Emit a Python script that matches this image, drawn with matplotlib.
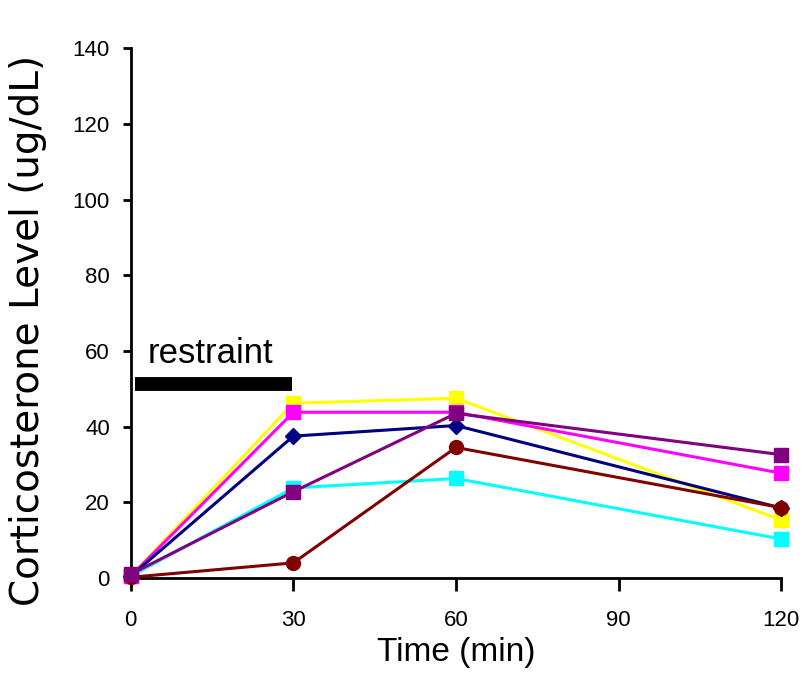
import matplotlib
matplotlib.use("Agg")
import matplotlib.pyplot as plt

plt.rcParams['font.family'] = ['Liberation Sans Narrow', 'Liberation Sans', 'DejaVu Sans']

# time points (min)
time = [0, 30, 60, 120]

# corticosterone per animal (ug/dL)
yellow = [0.5, 46.2, 47.5, 15.3]
magenta = [0.5, 43.8, 43.8, 27.7]
navy = [0.5, 37.5, 40.3, 18.5]
purple = [1.0, 22.8, 43.5, 32.6]
cyan = [0.5, 23.8, 26.3, 10.3]
darkred = [0.2, 4.0, 34.5, 18.6]

series = [
    (cyan, '#00ffff', 's'),
    (yellow, '#ffff00', 's'),
    (magenta, '#ff00ff', 's'),
    (navy, '#000080', 'D'),
    (darkred, '#800000', 'o'),
    (purple, '#800080', 's'),
]

restraint_start = 0.8
restraint_end = 29.8
restraint_level = 51.3

fig = plt.figure(figsize=(8.02, 6.8), dpi=100)
ax = fig.add_axes([0.163, 0.15, 0.811, 0.779])

for vals, col, mk in series:
    ms = 8 if mk == 'D' else 10
    ax.plot(time, vals, color=col, marker=mk, markersize=ms, linewidth=2.2,
            clip_on=False, zorder=3)

ax.plot([restraint_start, restraint_end], [restraint_level, restraint_level],
        color='black', linewidth=10, solid_capstyle='butt')
ax.text(3.2, 59.3, 'restraint', fontsize=25, va='center', ha='left',
        family=['Liberation Sans', 'DejaVu Sans'])

ax.set_xlim(0, 120)
ax.set_ylim(0, 140)
ax.set_xticks([0, 30, 60, 90, 120])
ax.set_yticks(range(0, 141, 20))

for s in ['top', 'right']:
    ax.spines[s].set_visible(False)
for s in ['left', 'bottom']:
    ax.spines[s].set_linewidth(2)
ax.tick_params(axis='both', width=2, labelsize=16, direction='out')
ax.tick_params(axis='y', length=6, pad=9)
ax.tick_params(axis='x', length=9, pad=14)

ax.set_xlabel('Time (min)', fontsize=24, labelpad=4)
ax.set_ylabel('Corticosterone Level (ug/dL)', fontsize=28,
              family=['DejaVu Sans'])
ax.yaxis.set_label_coords(-0.128, 0.468)

fig.savefig('out.png', dpi=100)
